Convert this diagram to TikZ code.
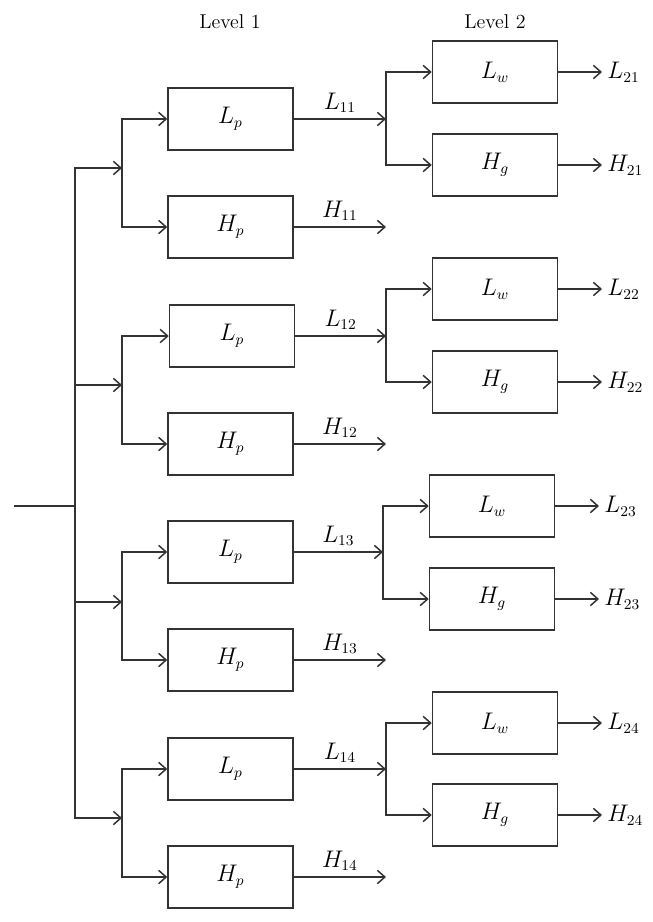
\documentclass[tikz,border=0pt]{standalone}
\usepackage{tikz}
\usetikzlibrary{arrows.meta}

\begin{document}
\begin{tikzpicture}[
    x=0.6pt, y=-0.6pt,
    every node/.style={font=\fontsize{13.5}{16}\selectfont},
    block/.style={rectangle, draw=black!80, line width=0.9pt, minimum width=75pt, minimum height=37.2pt},
    outlbl/.style={anchor=west, inner sep=3pt},
    wire/.style={draw=black!80, line width=0.9pt},
    line/.style={wire, -{Straight Barb[length=4.5pt,width=8pt]}}
]
\useasboundingbox (0,0) rectangle (653,922);

\node [font=\large] (lev1) at (230,22) {Level 1};
\node [font=\large] (lev2) at (495,22) {Level 2};

% level 1
\node [block] (lp1) at (230.5,119) {$L_p$};
\node [block] (hp1) at (230.5,227) {$H_p$};
\node [block] (lp2) at (232,336) {$L_p$};
\node [block] (hp2) at (230.5,444) {$H_p$};
\node [block] (lp3) at (230.5,552) {$L_p$};
\node [block] (hp3) at (230.5,660) {$H_p$};
\node [block] (lp4) at (230.5,769) {$L_p$};
\node [block] (hp4) at (230.5,877) {$H_p$};

% level 2
\node [block] (lw1) at (495,72) {$L_w$};
\node [block] (hg1) at (495,165) {$H_g$};
\node [block] (lw2) at (495,289) {$L_w$};
\node [block] (hg2) at (495,382) {$H_g$};
\node [block] (lw3) at (492,506) {$L_w$};
\node [block] (hg3) at (492,599) {$H_g$};
\node [block] (lw4) at (495,723) {$L_w$};
\node [block] (hg4) at (495,815) {$H_g$};

% outputs
\node [outlbl] (l21) at (602,72) {$L_{21}$};
\node [outlbl] (h21) at (602,165) {$H_{21}$};
\node [outlbl] (l22) at (602,289) {$L_{22}$};
\node [outlbl] (h22) at (602,382) {$H_{22}$};
\node [outlbl] (l23) at (599,506) {$L_{23}$};
\node [outlbl] (h23) at (599,599) {$H_{23}$};
\node [outlbl] (l24) at (602,723) {$L_{24}$};
\node [outlbl] (h24) at (602,815) {$H_{24}$};

\coordinate (in) at (14,506);
\coordinate (root) at (75,506);
\coordinate (b1) at (122,168);
\coordinate (b2) at (122,385);
\coordinate (b3) at (122,602);
\coordinate (b4) at (122,818);
\coordinate (s1) at (386,119);
\coordinate (s2) at (386,336);
\coordinate (s3) at (383,552);
\coordinate (s4) at (386,769);
\coordinate (e1) at (386,227);
\coordinate (e2) at (386,444);
\coordinate (e3) at (386,660);
\coordinate (e4) at (386,877);

% input and trunk
\path [wire] (in) -- (root);
\path [line] (root) |- (b1);
\path [line] (root) |- (b2);
\path [line] (root) |- (b3);
\path [line] (root) |- (b4);

% level 1 split
\path [line] (b1) |- (lp1);
\path [line] (b1) |- (hp1);
\path [line] (b2) |- (lp2);
\path [line] (b2) |- (hp2);
\path [line] (b3) |- (lp3);
\path [line] (b3) |- (hp3);
\path [line] (b4) |- (lp4);
\path [line] (b4) |- (hp4);

\path [line] (lp1) -- (s1) node [midway, above] {$L_{11}$};
\path [line] (hp1) -- (e1) node [midway, above] {$H_{11}$};
\path [line] (lp2) -- (s2) node [midway, above] {$L_{12}$};
\path [line] (hp2) -- (e2) node [midway, above] {$H_{12}$};
\path [line] (lp3) -- (s3) node [midway, above] {$L_{13}$};
\path [line] (hp3) -- (e3) node [midway, above] {$H_{13}$};
\path [line] (lp4) -- (s4) node [midway, above] {$L_{14}$};
\path [line] (hp4) -- (e4) node [midway, above] {$H_{14}$};

% level 2 split
\path [line] (s1) |- (lw1);
\path [line] (s1) |- (hg1);
\path [line] (s2) |- (lw2);
\path [line] (s2) |- (hg2);
\path [line] (s3) |- (lw3);
\path [line] (s3) |- (hg3);
\path [line] (s4) |- (lw4);
\path [line] (s4) |- (hg4);

\path [line] (lw1) -- (l21);
\path [line] (hg1) -- (h21);
\path [line] (lw2) -- (l22);
\path [line] (hg2) -- (h22);
\path [line] (lw3) -- (l23);
\path [line] (hg3) -- (h23);
\path [line] (lw4) -- (l24);
\path [line] (hg4) -- (h24);

\end{tikzpicture}
\end{document}
